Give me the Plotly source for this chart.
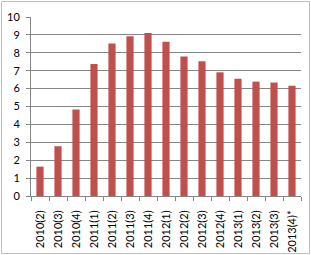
import plotly.graph_objects as go

categories = ["2010(2)", "2010(3)", "2010(4)", "2011(1)", "2011(2)", "2011(3)", "2011(4)",
              "2012(1)", "2012(2)", "2012(3)", "2012(4)", "2013(1)", "2013(2)", "2013(3)", "2013(4)*"]
values = [1.64, 2.78, 4.83, 7.38, 8.52, 8.93, 9.1, 8.62, 7.79, 7.53, 6.91, 6.55, 6.39, 6.34, 6.16]

W, H = 311, 255
L, R, T, B = 31, 10, 17, 59
pw, ph = W - L - R, H - T - B

fig = go.Figure(go.Bar(x=categories, y=values, marker=dict(color="#C0504D", line=dict(width=0)), width=0.4))

fig.update_layout(
    width=W, height=H,
    margin=dict(l=L, r=R, t=T, b=B),
    paper_bgcolor="white", plot_bgcolor="white",
    showlegend=False,
    font=dict(family="Lato, Liberation Sans, sans-serif", size=11, color="#000000"),
    bargap=0.6,
)
fig.update_xaxes(
    type="category", tickangle=-90, showgrid=False, automargin=False,
    showline=True, linecolor="#868686", linewidth=1,
    ticks="outside", ticklen=4, tickcolor="#868686", tickson="boundaries",
    tickfont=dict(size=11), ticklabelstandoff=9,
)
fig.update_yaxes(
    range=[0, 10], dtick=1, showgrid=True, gridcolor="#868686", gridwidth=1,
    showline=True, linecolor="#868686", linewidth=1, automargin=False,
    ticks="outside", ticklen=4, tickcolor="#868686",
    zeroline=False, tickfont=dict(size=11), ticklabelstandoff=4,
)
# outer chart border
fig.add_shape(type="rect", xref="paper", yref="paper",
              x0=(1.5 - L) / pw, x1=(W - 1.5 - L) / pw,
              y0=(H - T - B - (H - 1.5 - T)) / ph, y1=(H - T - B - (1.5 - T)) / ph,
              line=dict(color="#BFBFBF", width=1), layer="below")

fig.write_html("out.html")
